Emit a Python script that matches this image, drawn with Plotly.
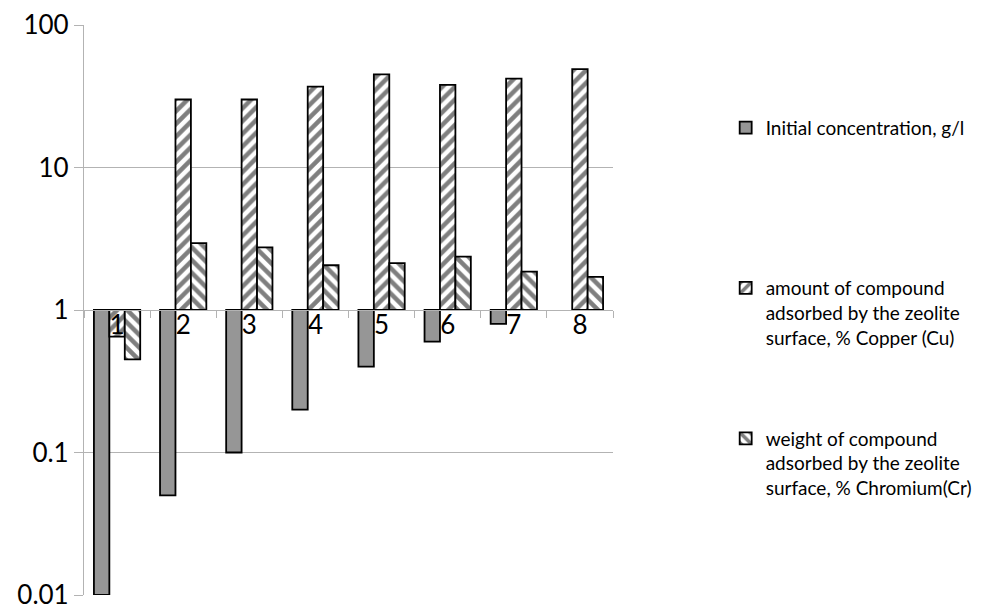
import plotly.graph_objects as go

categories = ["1", "2", "3", "4", "5", "6", "7", "8"]
initial_conc = [0.01, 0.05, 0.1, 0.2, 0.4, 0.6, 0.8, None]
copper_pct = [0.65, 30, 30, 37, 45, 38, 42, 49]
chromium_pct = [0.45, 2.95, 2.75, 2.06, 2.13, 2.37, 1.86, 1.71]

name_init = "Initial concentration, g/l"
name_cu = "amount of compound<br>adsorbed by the zeolite<br>surface, % Copper (Cu)"
name_cr = "weight of compound<br>adsorbed by the zeolite<br>surface, % Chromium(Cr)"

FONT = "Lato"
BASE = 1.0  # log axis crosses at 1

def offs(vals):
    return [None if v is None else v - BASE for v in vals]

fig = go.Figure()
fig.add_trace(go.Bar(
    x=categories, y=offs(initial_conc), base=BASE, name=name_init,
    marker=dict(color="#969696", line=dict(color="black", width=1.8)),
    legend="legend",
))
fig.add_trace(go.Bar(
    x=categories, y=offs(copper_pct), base=BASE, name=name_cu,
    marker=dict(color="white", line=dict(color="black", width=1.8),
                pattern=dict(shape="/", fgcolor="black", bgcolor="white", size=9, solidity=0.5)),
    legend="legend2",
))
fig.add_trace(go.Bar(
    x=categories, y=offs(chromium_pct), base=BASE, name=name_cr,
    marker=dict(color="white", line=dict(color="black", width=1.8),
                pattern=dict(shape="\\", fgcolor="black", bgcolor="white", size=9, solidity=0.5)),
    legend="legend3",
))

grid = "#b3b3b3"
legend_common = dict(font=dict(family=FONT, size=19, color="black"), bgcolor="rgba(0,0,0,0)",
                     xanchor="left", yanchor="top", valign="top", x=1.213)

fig.update_layout(
    width=987, height=610,
    margin=dict(l=76, r=382, t=17, b=23, autoexpand=False),
    paper_bgcolor="white", plot_bgcolor="white",
    barmode="group", bargap=0.3, bargroupgap=0,
    font=dict(family=FONT, size=26, color="black"),
    showlegend=True,
    legend=dict(**legend_common, y=0.853),
    legend2=dict(**legend_common, y=0.572),
    legend3=dict(**legend_common, y=0.308),
    xaxis=dict(type="category", anchor="free", position=0.5, range=[-0.5, 7.5], automargin=False,
               showline=True, linecolor=grid, linewidth=1.2, ticks="outside", tickson="boundaries",
               ticklen=7, tickcolor=grid, showgrid=False, ticklabelstandoff=-8,
               tickfont=dict(family=FONT, size=26)),
    yaxis=dict(type="log", range=[-2, 2], tickvals=[0.01, 0.1, 1, 10, 100],
               ticktext=["0.01", "0.1", "1", "10", "100"], automargin=False,
               ticklabeloverflow="allow",
               showgrid=True, gridcolor=grid, gridwidth=1.2, showline=True, linecolor=grid, linewidth=1.2,
               ticks="outside", ticklen=9, tickcolor=grid, zeroline=False,
               tickfont=dict(family=FONT, size=26)),
)

fig.write_html("out.html")
